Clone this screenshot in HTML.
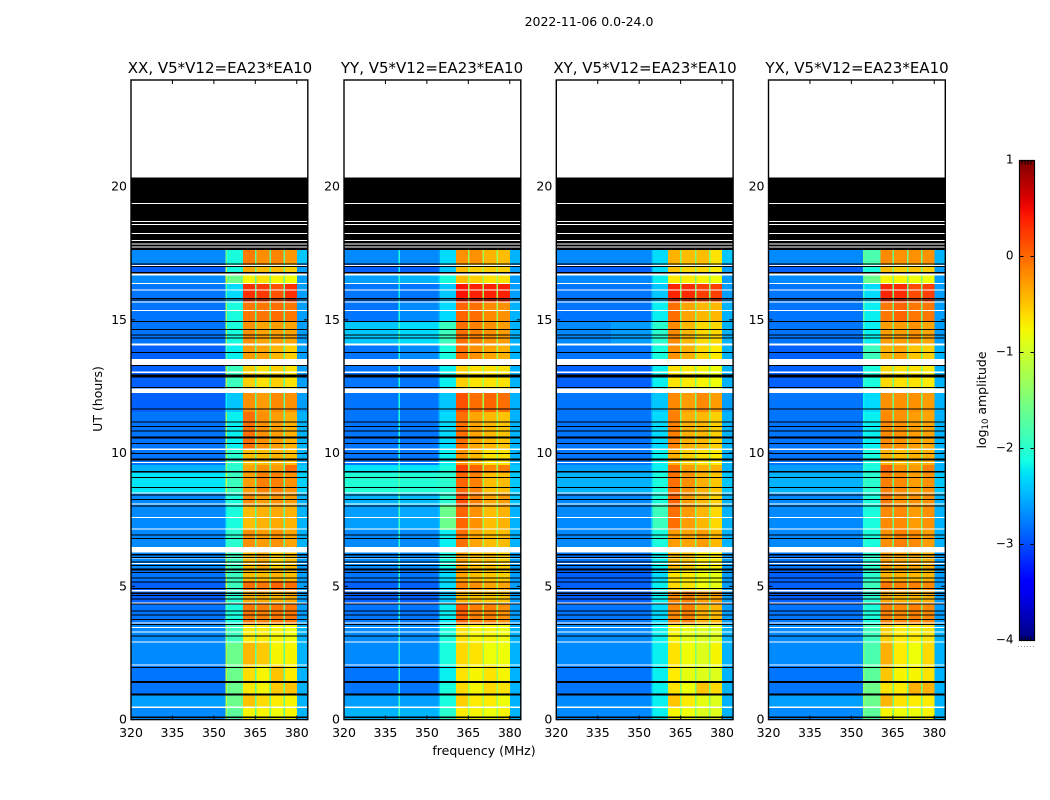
<!DOCTYPE html>
<html lang="en">
<head>
<meta charset="utf-8">
<title>2022-11-06 waterfall</title>
<style>
html,body{margin:0;padding:0;background:#fff;width:1050px;height:800px;overflow:hidden}
svg{display:block;font-family:"DejaVu Sans","Liberation Sans",sans-serif;fill:#000}
</style>
</head>
<body>
<svg id="chart" xmlns="http://www.w3.org/2000/svg" width="1050" height="800" viewBox="0 0 1050 800">
<defs><linearGradient id="jetGrad" x1="0" y1="1" x2="0" y2="0"></linearGradient></defs>
<g id="cells" shape-rendering="crispEdges"></g>
<g id="flags" shape-rendering="crispEdges"></g>
<g id="axes"></g>
<text x="589" y="26" font-size="12.5" text-anchor="middle">2022-11-06 0.0-24.0</text>
<text x="220" y="73" font-size="15" text-anchor="middle">XX, V5*V12=EA23*EA10</text>
<text x="432" y="73" font-size="15" text-anchor="middle">YY, V5*V12=EA23*EA10</text>
<text x="645" y="73" font-size="15" text-anchor="middle">XY, V5*V12=EA23*EA10</text>
<text x="857" y="73" font-size="15" text-anchor="middle">YX, V5*V12=EA23*EA10</text>
<text x="484" y="755" font-size="12.5" text-anchor="middle">frequency (MHz)</text>
<text transform="translate(102,399) rotate(-90)" font-size="12.5" text-anchor="middle">UT (hours)</text>
<text transform="translate(986,400) rotate(-90)" font-size="12.5" text-anchor="middle">log<tspan font-size="8.5" dy="2">10</tspan><tspan dy="-2"> amplitude</tspan></text>
<rect x="1019.5" y="160.5" width="15" height="480" fill="url(#jetGrad)" stroke="#000" stroke-width="1.2"/>
<g id="cbar"></g>
</svg>
<script>
// All levels below are coarse estimates.
// Per-pixel noise is deliberately not synthesised.
const hourTicks = [0, 5, 10, 15, 20];
const freqTicks = [320, 335, 350, 365, 380];
const colorTicks = [-4, -3, -2, -1, 0, 1];
const colorTickLabels = ['\u22124', '\u22123', '\u22122', '\u22121', '0', '1'];
// Frequency edges (MHz) of the ten columns read per time block
const bandEdges = [320, 339.8, 340.3, 354.2, 354.8, 360.5, 365, 370.3, 375.4, 380, 384];
// Narrow dips between the four bright sub-bands (MHz)
const gapFreqs = [365, 370.3, 375.4];
// Time-block boundaries (hours, top to bottom)
const blockTops = [17.62,17.09,16.68,16.38,15.67,14.92,14.05,13.30,12.29,11.54,10.15,9.55,9.25,8.53,8.05,7.11,6.27,5.68,5.20,4.87,4.33,3.55,2.87,2.05,1.41,0.92,0.43];
const blockBottoms = [17.09,16.68,16.38,15.67,14.92,14.05,13.30,12.29,11.54,10.15,9.55,9.25,8.53,8.05,7.11,6.27,5.68,5.20,4.87,4.33,3.55,2.87,2.05,1.41,0.92,0.43,0];
// Estimated log10 amplitude: one row per block, one value per column
const levelsXX = [
[-2.7,-2.7,-2.7,-1.6,-2.1,-.1,-.2,-.15,-.25,-2.4],
[-2.9,-2.9,-2.9,-1.2,-2.1,-.35,-.45,-.45,-.55,-2.6],
[-2.7,-2.7,-2.7,-1.0,-1.6,-.75,-.65,-.75,-.8,-2.6],
[-2.8,-2.8,-2.8,-1.8,-2.3,.3,.25,.12,.3,-2.6],
[-2.8,-2.8,-2.8,-1.3,-2.1,-.08,-.08,-.03,-.08,-2.6],
[-2.8,-2.8,-2.8,-1.3,-2.1,-.22,-.32,-.28,-.32,-2.6],
[-2.9,-2.9,-2.9,-1.8,-2.2,-.28,-.32,-.42,-.55,-2.6],
[-2.9,-2.9,-2.9,-1.2,-1.9,-.55,-.65,-.55,-.65,-2.6],
[-2.9,-2.9,-2.9,-2.2,-2.4,-.22,-.28,-.18,-.22,-2.6],
[-2.8,-2.8,-2.8,-1.3,-2.2,-.03,-.22,-.28,-.38,-2.5],
[-2.8,-2.8,-2.8,-1.3,-2.0,-.45,-.45,-.4,-.45,-2.5],
[-2.5,-2.5,-2.5,-1.4,-2.0,-.32,-.22,-.28,-.03,-2.4],
[-2.25,-2.25,-2.25,-1.1,-1.9,-.28,-.12,-.12,-.22,-2.35],
[-2.7,-2.7,-2.7,-1.9,-2.1,-.18,-.28,-.22,-.28,-2.5],
[-2.7,-2.7,-2.7,-2.2,-2.1,-.45,-.4,-.35,-.4,-2.5],
[-2.7,-2.7,-2.7,-2.0,-2.0,-.22,-.28,-.22,-.32,-2.5],
[-2.7,-2.7,-2.7,-1.3,-1.9,-.45,-.35,-.55,-.45,-2.6],
[-2.8,-2.8,-2.8,-1.3,-1.9,-.45,-.45,-.4,-.45,-2.6],
[-2.9,-2.9,-2.9,-1.1,-1.9,-.03,-.08,.02,-.03,-2.6],
[-2.9,-2.9,-2.9,-1.4,-2.0,-.35,-.35,-.4,-.35,-2.6],
[-2.8,-2.8,-2.8,-1.8,-2.1,-.08,-.12,-.08,-.08,-2.6],
[-2.7,-2.7,-2.7,-1.4,-1.9,-.7,-.7,-.75,-.8,-2.5],
[-2.7,-2.7,-2.7,-1.2,-1.6,-.42,-.52,-.75,-.75,-2.5],
[-2.8,-2.8,-2.8,-1.1,-1.6,-.62,-.75,-.48,-.7,-2.5],
[-2.8,-2.8,-2.8,-1.1,-1.6,-.68,-.75,-.52,-.48,-2.5],
[-2.6,-2.6,-2.6,-1.1,-1.6,-.48,-.62,-.7,-.75,-2.5],
[-2.7,-2.7,-2.7,-1.2,-1.7,-.75,-.75,-.8,-.75,-2.5]
];
const levelsYY = [
[-2.7,-2.1,-2.7,-2.6,-2.3,-.22,-.22,-.4,-.45,-2.5],
[-2.9,-2.2,-2.9,-2.7,-2.4,-.45,-.55,-.55,-.55,-2.6],
[-2.6,-2.0,-2.5,-2.3,-2.1,-.45,-.55,-.65,-.65,-2.6],
[-2.8,-2.2,-2.8,-2.6,-2.4,.45,.38,.38,.38,-2.6],
[-2.8,-2.1,-2.7,-2.5,-2.3,.02,-.03,-.18,-.22,-2.5],
[-2.4,-1.9,-2.3,-2.1,-1.9,-.03,-.12,-.22,-.28,-2.5],
[-2.8,-2.1,-2.7,-2.4,-2.1,-.03,-.22,-.32,-.38,-2.5],
[-2.8,-2.1,-2.8,-2.5,-2.2,-.55,-.65,-.65,-.65,-2.5],
[-2.8,-2.1,-2.8,-2.5,-2.4,.12,-.03,.02,-.03,-2.5],
[-2.8,-2.1,-2.8,-2.5,-2.3,-.03,-.32,-.42,-.48,-2.5],
[-2.8,-2.1,-2.8,-2.4,-2.2,-.22,-.42,-.65,-.65,-2.5],
[-2.25,-1.9,-2.25,-2.2,-2.1,.2,.02,-.18,-.12,-2.4],
[-2.05,-1.8,-2.05,-2.0,-2.0,.02,-.12,-.45,-.45,-2.4],
[-2.5,-1.9,-2.45,-2.3,-2.0,.16,-.12,-.32,-.28,-2.4],
[-2.6,-1.9,-2.55,-2.4,-1.6,.02,-.22,-.45,-.4,-2.5],
[-2.7,-2.0,-2.7,-2.5,-2.2,-.03,-.32,-.45,-.45,-2.5],
[-2.7,-2.0,-2.7,-2.4,-2.1,-.28,-.45,-.45,-.55,-2.6],
[-2.8,-2.0,-2.8,-2.5,-2.3,-.32,-.45,-.5,-.55,-2.6],
[-2.9,-2.1,-2.9,-2.6,-2.3,-.12,-.22,-.32,-.32,-2.6],
[-2.9,-2.1,-2.9,-2.6,-2.4,-.38,-.45,-.5,-.5,-2.6],
[-2.8,-2.1,-2.8,-2.5,-2.2,.06,-.12,-.12,-.22,-2.6],
[-2.7,-2.0,-2.7,-2.4,-2.1,-.65,-.75,-.75,-.8,-2.5],
[-2.7,-2.0,-2.7,-2.4,-2.1,-.6,-.65,-.8,-.8,-2.5],
[-2.8,-2.0,-2.8,-2.5,-2.2,-.65,-.75,-.65,-.75,-2.5],
[-2.8,-2.0,-2.8,-2.4,-2.1,-.6,-.75,-.6,-.65,-2.5],
[-2.6,-1.9,-2.6,-2.4,-2.1,-.55,-.7,-.7,-.8,-2.5],
[-2.5,-1.9,-2.5,-2.3,-2.0,-.7,-.75,-.8,-.75,-2.5]
];
const levelsXY = [
[-2.7,-2.7,-2.7,-2.6,-2.3,-.4,-.45,-.45,-.65,-2.4],
[-2.9,-2.9,-2.9,-2.7,-2.3,-.5,-.6,-.6,-.7,-2.6],
[-2.7,-2.7,-2.7,-2.6,-2.2,-.7,-.7,-.75,-.8,-2.6],
[-2.8,-2.8,-2.8,-2.6,-2.4,.36,.32,.22,.22,-2.6],
[-2.8,-2.8,-2.8,-2.5,-2.2,-.03,-.32,-.42,-.42,-2.5],
[-2.7,-2.6,-2.6,-2.3,-2.0,-.18,-.42,-.6,-.6,-2.5],
[-2.8,-2.8,-2.8,-2.4,-2.1,-.22,-.38,-.6,-.7,-2.5],
[-2.9,-2.9,-2.9,-2.6,-2.2,-.65,-.7,-.75,-.8,-2.5],
[-2.8,-2.8,-2.8,-2.5,-2.4,-.18,-.28,-.18,-.28,-2.6],
[-2.8,-2.8,-2.8,-2.5,-2.3,-.12,-.38,-.42,-.55,-2.5],
[-2.8,-2.8,-2.8,-2.5,-2.2,-.38,-.55,-.65,-.7,-2.5],
[-2.6,-2.6,-2.6,-2.4,-2.2,-.03,-.28,-.38,-.38,-2.5],
[-2.5,-2.5,-2.5,-2.4,-2.1,-.03,-.22,-.38,-.5,-2.4],
[-2.7,-2.7,-2.7,-2.4,-2.1,.02,-.28,-.42,-.55,-2.5],
[-2.7,-2.7,-2.7,-2.4,-1.9,-.03,-.28,-.42,-.6,-2.5],
[-2.7,-2.7,-2.7,-2.4,-2.1,-.28,-.32,-.28,-.42,-2.5],
[-2.8,-2.8,-2.8,-2.5,-2.2,-.42,-.5,-.7,-.7,-2.6],
[-2.9,-2.9,-2.9,-2.6,-2.3,-.65,-.7,-.8,-.85,-2.6],
[-2.9,-2.9,-2.9,-2.5,-2.2,-.6,-.65,-.8,-.85,-2.6],
[-2.9,-2.9,-2.9,-2.5,-2.2,-.18,-.12,-.28,-.28,-2.6],
[-2.8,-2.8,-2.8,-2.5,-2.3,-.18,-.12,-.38,-.42,-2.6],
[-2.7,-2.7,-2.7,-2.5,-2.2,-.75,-.85,-.9,-.9,-2.5],
[-2.7,-2.7,-2.7,-2.5,-2.2,-.65,-.8,-.9,-.75,-2.5],
[-2.8,-2.8,-2.8,-2.6,-2.2,-.7,-.85,-.9,-.9,-2.5],
[-2.8,-2.8,-2.8,-2.5,-2.2,-.65,-.8,-.5,-.6,-2.5],
[-2.7,-2.7,-2.7,-2.5,-2.2,-.5,-.7,-.85,-.9,-2.5],
[-2.7,-2.7,-2.7,-2.5,-2.2,-.75,-.8,-.9,-.9,-2.5]
];
const levelsYX = [
[-2.7,-2.7,-2.7,-1.6,-1.8,-.18,-.22,-.22,-.22,-2.5],
[-2.9,-2.9,-2.9,-1.9,-2.1,-.45,-.55,-.5,-.55,-2.6],
[-2.7,-2.7,-2.7,-1.7,-1.6,-.75,-.75,-.8,-.8,-2.6],
[-2.8,-2.8,-2.8,-1.9,-2.3,.36,.32,.16,.22,-2.6],
[-2.8,-2.8,-2.8,-1.7,-2.2,-.08,.02,-.08,-.08,-2.6],
[-2.8,-2.8,-2.8,-1.8,-2.2,-.28,-.28,-.22,-.32,-2.6],
[-2.9,-2.9,-2.9,-1.7,-1.9,-.38,-.32,-.5,-.55,-2.5],
[-2.9,-2.9,-2.9,-1.9,-2.1,-.6,-.65,-.65,-.7,-2.5],
[-2.8,-2.8,-2.8,-2.2,-2.3,-.22,-.22,-.22,-.28,-2.5],
[-2.8,-2.8,-2.8,-2.1,-2.2,-.18,-.22,-.28,-.32,-2.5],
[-2.8,-2.8,-2.8,-1.9,-2.1,-.38,-.45,-.38,-.38,-2.5],
[-2.6,-2.6,-2.6,-1.9,-2.1,.02,-.22,-.28,-.12,-2.5],
[-2.5,-2.5,-2.5,-1.8,-2.0,-.12,-.18,-.28,-.22,-2.4],
[-2.7,-2.7,-2.7,-1.9,-2.1,-.08,-.22,-.22,-.22,-2.5],
[-2.7,-2.7,-2.7,-2.1,-2.1,-.18,-.18,-.28,-.22,-2.5],
[-2.7,-2.7,-2.7,-1.9,-2.1,-.22,-.12,-.18,-.28,-2.5],
[-2.8,-2.8,-2.8,-1.8,-2.0,-.28,-.32,-.32,-.38,-2.6],
[-2.9,-2.9,-2.9,-1.9,-2.0,-.38,-.38,-.42,-.42,-2.6],
[-2.9,-2.9,-2.9,-1.7,-1.9,-.08,-.12,-.12,-.18,-2.6],
[-2.9,-2.9,-2.9,-1.8,-2.0,-.32,-.38,-.38,-.38,-2.6],
[-2.8,-2.8,-2.8,-1.8,-2.1,-.12,-.18,-.12,-.18,-2.6],
[-2.7,-2.7,-2.7,-1.7,-1.9,-.55,-.7,-.7,-.65,-2.5],
[-2.7,-2.7,-2.7,-1.5,-1.8,-.38,-.7,-.8,-.6,-2.5],
[-2.8,-2.8,-2.8,-1.4,-1.7,-.5,-.75,-.75,-.65,-2.5],
[-2.8,-2.8,-2.8,-1.3,-1.6,-.65,-.7,-.38,-.38,-2.5],
[-2.6,-2.6,-2.6,-1.3,-1.6,-.42,-.65,-.7,-.7,-2.5],
[-2.7,-2.7,-2.7,-1.4,-1.7,-.75,-.8,-.8,-.75,-2.5]
];
// Level of the narrow dips between sub-bands, per panel
const gapLevels = [-1.7, -1.3, -1.5, -1.6];
// Flagged integrations: centre hour and thickness (hours)
const whiteRows = [[17.04,.04],[16.72,.1],[16.36,.04],[16.12,.04],[15.67,.05],[15.35,.04],[14.07,.08],[13.415,.23],[13.04,.05],[12.34,.16],[10.15,.06],[9.65,.05],[8.51,.04],[8.09,.04],[7.59,.04],[7.15,.04],[6.37,.2],[6.06,.04],[5.86,.05],[4.83,.05],[4.37,.04],[3.63,.04],[3.46,.04],[3.29,.04],[2.91,.04],[2.05,.05],[0.46,.05]];
const blackRows = [[17.09,.04],[17.0,.04],[16.77,.05],[15.8,.04],[15.75,.04],[14.93,.04],[14.63,.04],[14.43,.04],[14.32,.04],[13.77,.04],[13.28,.04],[12.89,.1],[12.46,.04],[11.65,.04],[11.17,.04],[10.99,.04],[10.83,.04],[10.58,.08],[10.36,.04],[9.99,.04],[9.76,.08],[9.3,.07],[9.09,.04],[8.71,.04],[8.42,.04],[8.26,.04],[8.02,.04],[6.92,.04],[6.8,.04],[6.19,.06],[6.09,.04],[5.92,.04],[5.78,.04],[5.63,.07],[5.52,.04],[5.32,.04],[5.17,.04],[4.92,.04],[4.74,.04],[4.65,.04],[4.52,.04],[4.33,.04],[4.08,.04],[3.92,.04],[3.76,.04],[3.57,.04],[3.14,.04],[1.96,.04],[1.41,.07],[0.94,.06],[0.09,.07]];
// Solid flagged span and the thin gaps of valid white inside it
const blackSpan = [17.62, 20.35];
const whiteInSpan = [19.37,18.69,18.58,18.24,17.98,17.84,17.73];

const svgNS = 'http://www.w3.org/2000/svg';
const panelLefts = [131, 344, 556.3, 768.5];
const panelWidth = 176.8;
const plotTop = 80, plotBottom = 719.6;
const panelLevels = [levelsXX, levelsYY, levelsXY, levelsYX];
const panelKeys = ['xx', 'yy', 'xy', 'yx'];

function xScale(p, mhz) { return panelLefts[p] + (mhz - 320) / 64 * panelWidth; }
function yScale(h) { return plotBottom - h / 24 * (plotBottom - plotTop); }
function ramp(t, pts) {
  for (let i = 1; i < pts.length; i++) {
    if (t <= pts[i][0]) {
      const a = pts[i - 1], b = pts[i];
      return a[1] + (b[1] - a[1]) * (t - a[0]) / (b[0] - a[0]);
    }
  }
  return pts[pts.length - 1][1];
}
function jet(v) {
  const t = Math.max(0, Math.min(1, (v + 4) / 5));
  const r = ramp(t, [[0,0],[.35,0],[.66,1],[.89,1],[1,.5]]);
  const g = ramp(t, [[0,0],[.125,0],[.375,1],[.64,1],[.91,0],[1,0]]);
  const b = ramp(t, [[0,.5],[.11,1],[.34,1],[.65,0],[1,0]]);
  return 'rgb(' + Math.round(r * 255) + ',' + Math.round(g * 255) + ',' + Math.round(b * 255) + ')';
}
function mk(tag, attrs, parent) {
  const el = document.createElementNS(svgNS, tag);
  for (const k in attrs) el.setAttribute(k, attrs[k]);
  parent.appendChild(el);
  return el;
}
const cellsG = document.getElementById('cells');
const flagsG = document.getElementById('flags');
const axesG = document.getElementById('axes');
const cbarG = document.getElementById('cbar');

panelLefts.forEach(function (_, p) {
  const levels = panelLevels[p];
  levels.forEach(function (row, b) {
    row.forEach(function (v, c) {
      const x0 = xScale(p, bandEdges[c]), x1 = xScale(p, bandEdges[c + 1]);
      const y0 = yScale(blockTops[b]), y1 = yScale(blockBottoms[b]);
      const cell = mk('rect', {x: x0, y: y0, width: x1 - x0, height: y1 - y0, fill: jet(v)}, cellsG);
      
      
    });
  });
  gapFreqs.forEach(function (f) {
    const y0 = yScale(blockTops[0]);
    const gap = mk('rect', {x: xScale(p, f) - 0.5, y: y0, width: 1.6, height: plotBottom - y0, fill: jet(gapLevels[p])}, cellsG);
    
    
  });
  const x = panelLefts[p];
  function band(h, t, color, name) {
    const yc = yScale(h), hh = Math.max(1, t / 24 * (plotBottom - plotTop));
    const r = mk('rect', {x: x, y: yc - hh / 2, width: panelWidth, height: hh, fill: color}, flagsG);
    
    
  }
  band((blackSpan[0] + blackSpan[1]) / 2, blackSpan[1] - blackSpan[0], '#000', 'flagged-span');
  whiteInSpan.forEach(function (h) { band(h, .04, '#fff', 'white-row'); });
  whiteRows.forEach(function (r) { band(r[0], r[1], '#fff', 'white-row'); });
  blackRows.forEach(function (r) { band(r[0], r[1], '#000', 'black-row'); });

  const frame = mk('rect', {x: x, y: plotTop, width: panelWidth, height: plotBottom - plotTop, fill: 'none', stroke: '#000', 'stroke-width': 1.4}, axesG);
  
  

  freqTicks.forEach(function (f) {
    const tx = xScale(p, f);
    const t1 = mk('line', {x1: tx, x2: tx, y1: plotBottom, y2: plotBottom - 4, stroke: '#000'}, axesG);
    
    
    const t2 = mk('line', {x1: tx, x2: tx, y1: plotTop, y2: plotTop + 4, stroke: '#000'}, axesG);
    
    
    const lab = mk('text', {x: tx, y: 737, 'font-size': 12.5, 'text-anchor': 'middle'}, axesG);
    lab.textContent = String(f);
    
    
  });
  hourTicks.forEach(function (h) {
    const ty = yScale(h);
    const t1 = mk('line', {x1: x, x2: x + 4, y1: ty, y2: ty, stroke: '#000'}, axesG);
    
    
    const t2 = mk('line', {x1: x + panelWidth, x2: x + panelWidth - 4, y1: ty, y2: ty, stroke: '#000'}, axesG);
    
    
    const lab = mk('text', {x: x - 4, y: ty + 4, 'font-size': 12.5, 'text-anchor': 'end'}, axesG);
    lab.textContent = String(h);
    
    
  });
});

// Colorbar
const grad = document.getElementById('jetGrad');
for (let i = 0; i <= 40; i++) {
  mk('stop', {offset: (i / 40), 'stop-color': jet(-4 + 5 * i / 40)}, grad);
}
function cbarY(v) { return 640.5 - (v + 4) / 5 * 480; }
colorTicks.forEach(function (v, i) {
  const y = cbarY(v);
  const a = mk('line', {x1: 1019.5, x2: 1023.5, y1: y, y2: y, stroke: '#000'}, cbarG);
  
  
  const b = mk('line', {x1: 1034.5, x2: 1030.5, y1: y, y2: y, stroke: '#000'}, cbarG);
  
  
  const lab = mk('text', {x: 1013.5, y: y + 3, 'font-size': 12, 'text-anchor': 'end'}, cbarG);
  lab.textContent = colorTickLabels[i];
  
  
});
[1022, 1025, 1028, 1031].forEach(function (x) {
  const top = mk('line', {x1: x, x2: x, y1: 160.5, y2: 164.5, stroke: '#000'}, cbarG);
  
  
  const bot = mk('line', {x1: x, x2: x, y1: 640.5, y2: 636.5, stroke: '#000'}, cbarG);
  
  
});
[1018, 1021, 1024, 1027, 1030, 1033].forEach(function (x) {
  const dot = mk('rect', {x: x, y: 646, width: 1, height: 1, fill: '#999'}, cbarG);
  
  
});
</script>
</body>
</html>
